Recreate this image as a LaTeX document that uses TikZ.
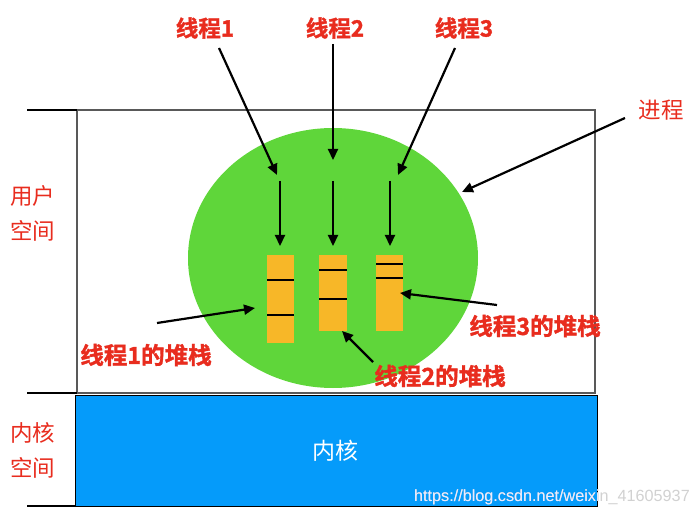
\documentclass[tikz,border=0pt]{standalone}
\usepackage{fontspec}
\setmainfont{Liberation Sans}
\newfontfamily\cjk{Noto Sans CJK SC}
\newfontfamily\cjkb{Noto Sans CJK SC Bold}[FakeBold=1.5]
\usetikzlibrary{arrows.meta}
\definecolor{lblred}{RGB}{232,44,30}
\definecolor{procgreen}{RGB}{95,214,58}
\definecolor{stackor}{RGB}{247,183,40}
\definecolor{kernblue}{RGB}{5,155,250}
\tikzset{
  lbl/.style={text=lblred,font=\cjkb\fontsize{22.5}{24}\selectfont,inner sep=0pt},
  slbl/.style={text=lblred,font=\cjkb\fontsize{23.5}{26}\selectfont,inner sep=0pt},
  lblr/.style={text=lblred,font=\cjk\fontsize{22.5}{35}\selectfont,inner sep=0pt,align=center},
  arr/.style={-{Triangle[length=11pt,width=10pt]},line width=2.2pt,black},
  stackbox/.style={fill=stackor,draw=none},
  sep/.style={line width=1.8pt,black},
  tick/.style={line width=2.2pt,black},
  wmark/.style={font=\fontsize{16.2}{17}\selectfont,anchor=west,inner sep=0pt}
}
\begin{document}
\begin{tikzpicture}[x=1pt,y=-1pt]
\useasboundingbox (0,0) rectangle (697,516);
% user space box
\draw[draw=black!65,line width=1.2pt] (77,110) rectangle (595,393);
% kernel
\node[draw=black,line width=1pt,fill=kernblue,minimum width=522pt,minimum height=111pt,inner sep=0pt,anchor=north west] (kern) at (75,395) {};
\node[text=white,font=\cjk\fontsize{23}{24}\selectfont] (kt) at (335,451) {内核};
% ticks
\draw[tick] (27,110) coordinate (t1a) -- (77,110) coordinate (t1b);
\draw[tick] (27,393) coordinate (t2a) -- (77,393) coordinate (t2b);
\draw[tick] (27,506) coordinate (t3a) -- (75,506) coordinate (t3b);
\node[lblr] (us) at (33,213) {用户\\空间};
\node[lblr] (ks) at (33,450) {内核\\空间};
% process ellipse
\fill[procgreen] (333,258) ellipse [x radius=145, y radius=130];
\coordinate (proc) at (462,192);
% stacks
\node[stackbox,minimum width=27pt,minimum height=88pt,inner sep=0pt,anchor=north west] (s1) at (267,255) {};
\node[stackbox,minimum width=28pt,minimum height=76pt,inner sep=0pt,anchor=north west] (s2) at (319,255) {};
\node[stackbox,minimum width=27pt,minimum height=76pt,inner sep=0pt,anchor=north west] (s3) at (376,255) {};
\draw[sep] (267,280) -- (294,280);
\draw[sep] (267,315) -- (294,315);
\draw[sep] (319,270) -- (347,270);
\draw[sep] (319,299) -- (347,299);
\draw[sep] (376,264) -- (403,264);
\draw[sep] (376,278) -- (403,278);
% inner arrows
\coordinate (i1) at (280,181);
\coordinate (i2) at (333,181);
\coordinate (i3) at (390,181);
\draw[arr] (i1) -- (280,246);
\draw[arr] (i2) -- (333,246);
\draw[arr] (i3) -- (390,246);
% top labels
\node[lbl] (l1) at (205,28) {线程1};
\node[lbl] (l2) at (335,28) {线程2};
\node[lbl] (l3) at (464,28) {线程3};
\coordinate (e1) at (277,175);
\coordinate (e2) at (333,160);
\coordinate (e3) at (398,175);
\draw[arr] (219,48) -- (e1);
\draw[arr] (333,44) -- (e2);
\draw[arr] (455,48) -- (e3);
% process label
\node[text=lblred,font=\cjk\fontsize{22.5}{24}\selectfont,inner sep=0pt] (pl) at (661,110) {进程};
\draw[arr] (625,118) -- (proc);
% stack labels
\node[slbl] (sl1) at (146,355) {线程1的堆栈};
\node[slbl] (sl2) at (440,376) {线程2的堆栈};
\node[slbl] (sl3) at (535,326) {线程3的堆栈};
\draw[arr] (157,323) -- (255,308);
\draw[arr] (373,362) -- (342,331);
\draw[arr] (497,305) -- (400,293);
% watermark
\node[wmark,text=black!18] (wm) at (414,497) {https://blog.csdn.net/weixin\_41605937};
\begin{scope}
\clip (75,395) rectangle (597,506);
\node[wmark,text=white!92!blue] (wm2) at (414,497) {https://blog.csdn.net/weixin\_41605937};
\end{scope}
\end{tikzpicture}
\end{document}
